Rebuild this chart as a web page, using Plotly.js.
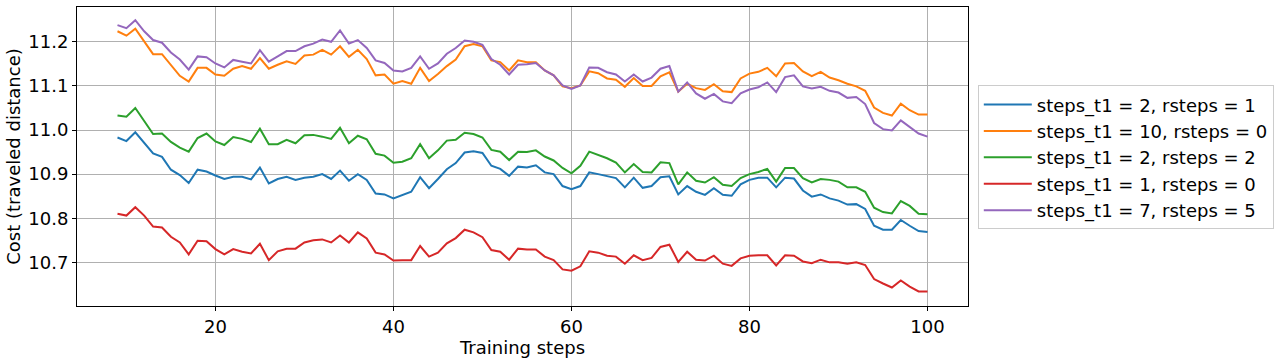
<!DOCTYPE html>
<html>
<head>
<meta charset="utf-8">
<script src="https://cdn.plot.ly/plotly-3.0.1.min.js"></script>
<style>
  html, body { margin: 0; padding: 0; background: #fff; }
  #chart { width: 1281px; height: 360px; }
</style>
</head>
<body>
<div id="chart"></div>
<script>
// training steps 9..100
var steps = [];
for (var s = 9; s <= 100; s++) steps.push(s);

var names = [
  "steps_t1 = 2, rsteps = 1",
  "steps_t1 = 10, rsteps = 0",
  "steps_t1 = 2, rsteps = 2",
  "steps_t1 = 1, rsteps = 0",
  "steps_t1 = 7, rsteps = 5"
];
var colors = ["#1f77b4", "#ff7f0e", "#2ca02c", "#d62728", "#9467bd"];

// values (x = 9 .. 100)
var blue = [
  10.983, 10.975, 10.995, 10.970, 10.947, 10.939, 10.910, 10.898, 10.880, 10.910,
  10.906, 10.897, 10.889, 10.894, 10.894, 10.888, 10.915, 10.879, 10.889, 10.894,
  10.887, 10.892, 10.894, 10.900, 10.889, 10.908, 10.885, 10.900, 10.887, 10.856,
  10.854, 10.845, 10.852, 10.860, 10.893, 10.868, 10.889, 10.911, 10.925, 10.949,
  10.952, 10.948, 10.919, 10.912, 10.896, 10.917, 10.915, 10.920, 10.904, 10.900,
  10.873, 10.866, 10.873, 10.904, 10.900, 10.896, 10.891, 10.870, 10.892, 10.869,
  10.873, 10.893, 10.895, 10.854, 10.873, 10.860, 10.853, 10.868, 10.853, 10.851,
  10.877, 10.887, 10.892, 10.892, 10.870, 10.892, 10.890, 10.863, 10.849, 10.854,
  10.845, 10.840, 10.831, 10.832, 10.821, 10.783, 10.774, 10.774, 10.796, 10.783,
  10.771, 10.769
];
var orange = [
  11.224, 11.214, 11.230, 11.201, 11.172, 11.172, 11.148, 11.123, 11.110, 11.141,
  11.141, 11.126, 11.123, 11.139, 11.145, 11.139, 11.163, 11.139, 11.148, 11.156,
  11.150, 11.169, 11.171, 11.182, 11.171, 11.190, 11.166, 11.182, 11.161, 11.124,
  11.126, 11.105, 11.111, 11.105, 11.141, 11.111, 11.127, 11.145, 11.160, 11.190,
  11.195, 11.190, 11.158, 11.154, 11.135, 11.158, 11.154, 11.154, 11.135, 11.124,
  11.099, 11.095, 11.101, 11.133, 11.129, 11.117, 11.114, 11.098, 11.118, 11.100,
  11.100, 11.122, 11.131, 11.087, 11.105, 11.095, 11.091, 11.104, 11.088, 11.086,
  11.117, 11.128, 11.132, 11.141, 11.122, 11.151, 11.152, 11.133, 11.122, 11.132,
  11.119, 11.113, 11.105, 11.099, 11.089, 11.051, 11.039, 11.033, 11.060, 11.045,
  11.035, 11.035
];
var green = [
  11.033, 11.030, 11.050, 11.020, 10.991, 10.992, 10.973, 10.960, 10.951, 10.982,
  10.992, 10.974, 10.966, 10.984, 10.980, 10.973, 11.003, 10.968, 10.968, 10.978,
  10.970, 10.988, 10.989, 10.985, 10.980, 11.005, 10.970, 10.987, 10.979, 10.946,
  10.942, 10.926, 10.928, 10.936, 10.968, 10.936, 10.954, 10.976, 10.978, 10.994,
  10.991, 10.983, 10.955, 10.951, 10.932, 10.951, 10.950, 10.954, 10.940, 10.931,
  10.914, 10.902, 10.919, 10.951, 10.944, 10.936, 10.926, 10.904, 10.923, 10.905,
  10.904, 10.927, 10.925, 10.877, 10.904, 10.885, 10.881, 10.893, 10.876, 10.873,
  10.891, 10.900, 10.905, 10.912, 10.883, 10.914, 10.914, 10.891, 10.881, 10.889,
  10.887, 10.883, 10.870, 10.870, 10.860, 10.824, 10.814, 10.811, 10.839, 10.828,
  10.810, 10.809
];
var red = [
  10.810, 10.806, 10.825, 10.806, 10.781, 10.779, 10.758, 10.745, 10.718, 10.749,
  10.748, 10.730, 10.718, 10.730, 10.724, 10.720, 10.742, 10.705, 10.725, 10.731,
  10.731, 10.745, 10.750, 10.752, 10.745, 10.761, 10.745, 10.768, 10.754, 10.722,
  10.718, 10.704, 10.705, 10.705, 10.737, 10.713, 10.722, 10.743, 10.755, 10.774,
  10.768, 10.757, 10.728, 10.724, 10.706, 10.731, 10.729, 10.729, 10.713, 10.705,
  10.684, 10.681, 10.691, 10.725, 10.722, 10.715, 10.713, 10.697, 10.716, 10.705,
  10.710, 10.735, 10.740, 10.701, 10.724, 10.706, 10.704, 10.715, 10.697, 10.692,
  10.709, 10.715, 10.716, 10.716, 10.693, 10.716, 10.715, 10.702, 10.698, 10.706,
  10.700, 10.700, 10.697, 10.700, 10.694, 10.662, 10.652, 10.643, 10.659, 10.645,
  10.634, 10.634
];
var purple = [
  11.238, 11.231, 11.249, 11.224, 11.204, 11.198, 11.176, 11.160, 11.137, 11.167,
  11.165, 11.151, 11.142, 11.159, 11.155, 11.151, 11.181, 11.155, 11.167, 11.179,
  11.179, 11.190, 11.196, 11.205, 11.200, 11.226, 11.196, 11.204, 11.186, 11.158,
  11.152, 11.135, 11.133, 11.141, 11.167, 11.139, 11.151, 11.173, 11.186, 11.203,
  11.200, 11.193, 11.161, 11.148, 11.126, 11.148, 11.149, 11.152, 11.135, 11.124,
  11.101, 11.093, 11.101, 11.142, 11.141, 11.131, 11.126, 11.110, 11.126, 11.110,
  11.119, 11.139, 11.145, 11.087, 11.108, 11.083, 11.071, 11.082, 11.065, 11.061,
  11.083, 11.092, 11.097, 11.108, 11.086, 11.120, 11.124, 11.099, 11.094, 11.098,
  11.089, 11.085, 11.073, 11.075, 11.059, 11.016, 11.002, 10.999, 11.022, 11.007,
  10.992, 10.985
];

var series = [blue, orange, green, red, purple];

var data = series.map(function (vals, i) {
  return {
    x: steps,
    y: vals,
    type: "scatter",
    mode: "lines",
    name: names[i],
    line: { color: colors[i], width: 2 }
  };
});

var font = "DejaVu Sans, sans-serif";

var axisCommon = {
  showline: true,
  mirror: true,
  linecolor: "#000",
  linewidth: 1,
  showgrid: true,
  gridcolor: "#b0b0b0",
  gridwidth: 1,
  zeroline: false,
  ticks: "outside",
  ticklen: 4,
  tickcolor: "#000",
  tickfont: { family: font, size: 18, color: "#000" }
};

var layout = {
  width: 1281,
  height: 360,
  paper_bgcolor: "#fff",
  plot_bgcolor: "#fff",
  margin: { l: 77, r: 313, t: 7, b: 54 },
  font: { family: font, size: 18, color: "#000" },
  xaxis: Object.assign({}, axisCommon, {
    range: [4.45, 104.55],
    tickvals: [20, 40, 60, 80, 100],
    title: { text: "Training steps", font: { family: font, size: 18 }, standoff: 0 }
  }),
  yaxis: Object.assign({}, axisCommon, {
    range: [10.601, 11.279],
    tickvals: [10.7, 10.8, 10.9, 11.0, 11.1, 11.2],
    ticktext: ["10.7", "10.8", "10.9", "11.0", "11.1", "11.2"],
    title: { text: "Cost (traveled distance)", font: { family: font, size: 18 }, standoff: 3 }
  }),
  legend: {
    x: 1.011,
    y: 0.738,
    xanchor: "left",
    yanchor: "top",
    bgcolor: "#fff",
    bordercolor: "#cccccc",
    borderwidth: 1,
    itemwidth: 48,
    font: { family: font, size: 18, color: "#000" }
  },
  showlegend: true
};

Plotly.newPlot("chart", data, layout, { displayModeBar: false, staticPlot: true });
</script>
</body>
</html>
